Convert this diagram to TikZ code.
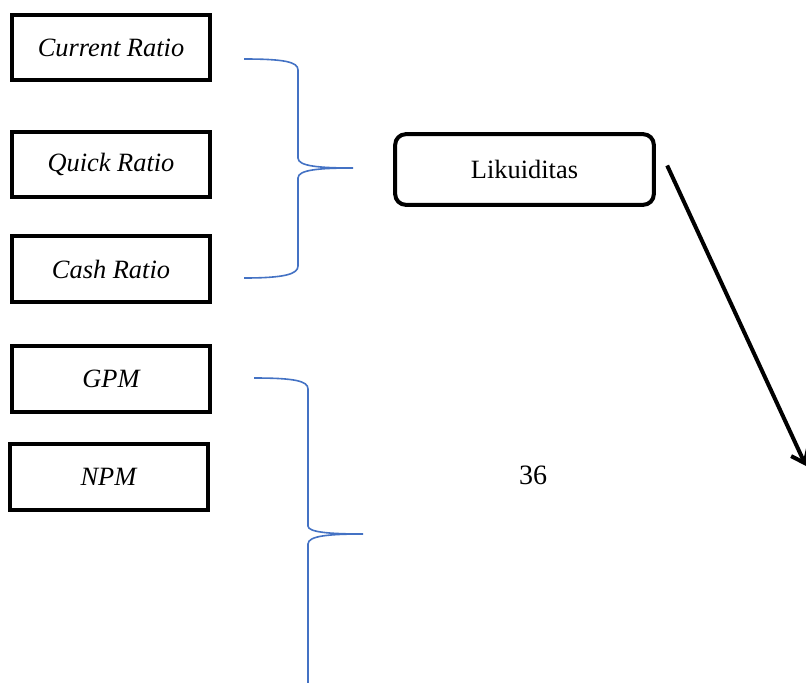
\documentclass[tikz,border=0pt]{standalone}
\usepackage{fontspec}
\setmainfont{Liberation Serif}
\usetikzlibrary{arrows.meta}
\definecolor{braceblue}{RGB}{68,114,196}
\begin{document}
\begin{tikzpicture}[x=0.75pt,y=-0.75pt,
  ratiobox/.style={draw=black, line width=3pt, minimum width=148.5pt, minimum height=49pt, inner sep=0pt, font=\fontsize{19.8}{24}\selectfont\itshape},
  groupbox/.style={draw=black, line width=3pt, rounded corners=8pt, minimum width=194pt, minimum height=53pt, inner sep=0pt, font=\fontsize{19.8}{24}\selectfont},
  bracestyle/.style={draw=braceblue, line width=1.2pt},
  arrowstyle/.style={draw=black, line width=3pt, -{Straight Barb[length=9pt,width=14pt,line width=3pt]}}]
\useasboundingbox (0,0) rectangle (806,682);
\clip (0,0) rectangle (806,682);
\fill[white] (0,0) rectangle (806,682);

\node[ratiobox] (cr) at (111,47.5) {Current Ratio};
\node[ratiobox] (qr) at (111,164.5) {Quick Ratio};
\node[ratiobox] (cash) at (111,269) {Cash Ratio};
\node[ratiobox] (gpm) at (111,379) {GPM};
\node[ratiobox] (npm) at (108.5,477) {NPM};
\node[groupbox] (lik) at (524.5,169.5) {Likuiditas};
\node[font=\fontsize{21}{25}\selectfont] (num) at (533,475) {36};

% brace 1
\draw[bracestyle] (244,59) .. controls (285,59) and (298,62) .. (298,70)
  -- (298,158) .. controls (298,166) and (318,168) .. (353,168)
  .. controls (318,168) and (298,170) .. (298,178)
  -- (298,266) .. controls (298,274) and (285,278) .. (244,278);

% brace 2
\draw[bracestyle] (254,378) .. controls (295,378) and (308,381) .. (308,389)
  -- (308,526) .. controls (308,532) and (328,534) .. (363,534)
  .. controls (328,534) and (308,536) .. (308,544)
  -- (308,700);

\coordinate (arrend) at (806,466);
\draw[arrowstyle] ([xshift=8.5pt,yshift=3pt]lik.east) -- (arrend);
\end{tikzpicture}
\end{document}
